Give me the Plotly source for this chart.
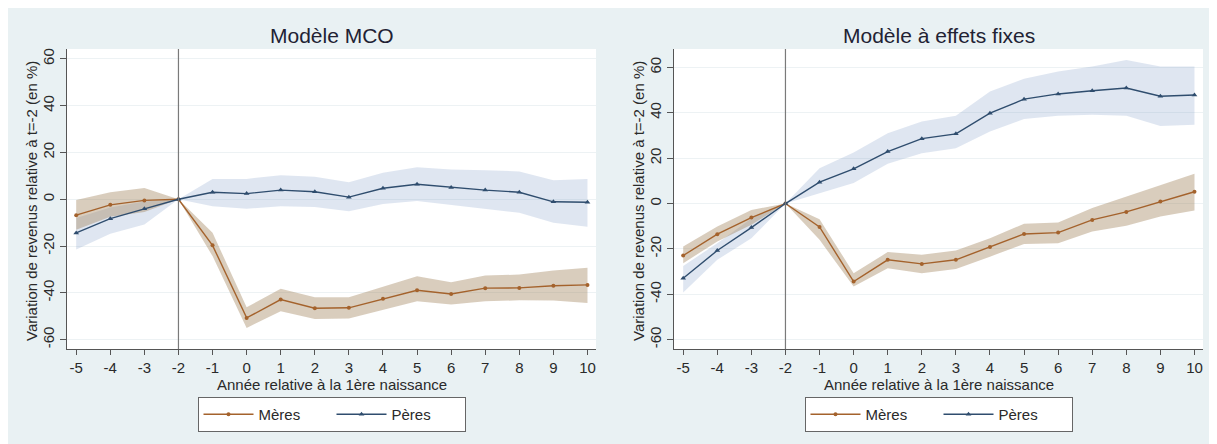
import plotly.graph_objects as go

# ---- data ----
years = [-5, -4, -3, -2, -1, 0, 1, 2, 3, 4, 5, 6, 7, 8, 9, 10]
x_ticks = years
y_ticks = [-60, -40, -20, 0, 20, 40, 60]

# Modèle MCO
mco_meres = [-6.8, -2.4, -0.5, 0, -19.7, -50.7, -42.9, -46.6, -46.4, -42.5, -38.9, -40.5, -38.0, -37.9, -37.0, -36.6]
mco_meres_hi = [-0.3, 3.0, 4.8, 0, -14.3, -46.2, -38.3, -41.9, -41.9, -37.5, -32.9, -35.5, -32.6, -32.2, -30.5, -29.3]
mco_meres_lo = [-13.0, -7.5, -5.5, 0, -24.3, -55.0, -47.9, -51.2, -51.0, -47.2, -43.6, -45.0, -43.6, -43.2, -43.3, -44.3]
mco_peres = [-14.4, -8.3, -4.1, 0, 3.0, 2.4, 3.9, 3.2, 0.9, 4.7, 6.4, 5.0, 3.9, 3.0, -1.1, -1.3]
mco_peres_hi = [-8.0, -3.5, -1.0, 0, 8.7, 8.7, 10.3, 9.6, 7.3, 11.3, 13.7, 12.7, 12.4, 11.9, 8.1, 8.7]
mco_peres_lo = [-21.5, -14.8, -10.8, 0, -3.0, -4.1, -3.0, -3.3, -5.1, -2.0, -0.8, -2.3, -4.1, -5.8, -10.1, -11.8]

# Modèle à effets fixes
fe_meres = [-22.9, -13.5, -6.2, 0, -10.3, -34.4, -24.8, -26.6, -24.8, -19.2, -13.4, -12.8, -7.2, -3.7, 0.9, 5.2]
fe_meres_hi = [-18.9, -10.1, -2.8, 0, -6.9, -30.7, -21.4, -22.6, -20.7, -15.3, -8.9, -8.4, -2.0, 3.1, 8.2, 13.1]
fe_meres_lo = [-26.3, -16.7, -9.4, 0, -16.0, -36.6, -28.5, -30.7, -28.9, -23.4, -17.8, -17.5, -12.3, -9.8, -5.7, -3.1]
fe_peres = [-32.9, -20.7, -10.6, 0, 9.4, 15.3, 22.9, 28.6, 30.7, 39.8, 46.0, 48.3, 49.7, 50.9, 47.3, 47.8]
fe_peres_hi = [-27.5, -17.5, -6.6, 0, 15.6, 22.5, 31.0, 36.1, 38.7, 49.4, 55.0, 58.2, 60.4, 63.3, 60.4, 60.4]
fe_peres_lo = [-39.2, -24.8, -15.3, 0, 4.6, 9.0, 17.5, 22.2, 24.4, 31.7, 37.2, 38.7, 39.1, 38.7, 34.2, 34.7]

titles = ["Modèle MCO", "Modèle à effets fixes"]
x_title = "Année relative à la 1ère naissance"
y_title = "Variation de revenus relative à t=-2 (en %)"
names = ["Mères", "Pères"]

# ---- styles ----
OFF = 8                      # page body margin offset
W, H = 1217 - OFF, 444 - OFF
BG = "#e9f1f3"
C_M = "#a4622c"
C_P = "#2f4d6e"
F_M = "rgba(160,130,90,0.40)"
F_P = "rgba(110,140,190,0.22)"
FONT = "Liberation Sans, Arial, sans-serif"
TXT = "#2a2a2a"


def fx(px):
    return (px - OFF) / W


def fy(py):
    return 1 - (py - OFF) / H


panels = [
    dict(x0=67, x1=596, ax="x", ay="y", xr=[-5.27, 10.25], yr=[-64, 64.2], leg="legend",
         m=mco_meres, mh=mco_meres_hi, ml=mco_meres_lo, p=mco_peres, ph=mco_peres_hi, pl=mco_peres_lo),
    dict(x0=674, x1=1203, ax="x2", ay="y2", xr=[-5.27, 10.25], yr=[-64.1, 68.1], leg="legend2",
         m=fe_meres, mh=fe_meres_hi, ml=fe_meres_lo, p=fe_peres, ph=fe_peres_hi, pl=fe_peres_lo),
]
py0, py1 = 49, 349

fig = go.Figure()
shapes, annotations = [], []

for i, pn in enumerate(panels):
    xa, ya = pn["ax"], pn["ay"]
    poly_x = years + years[::-1]
    fig.add_trace(go.Scatter(x=poly_x, y=pn["ph"] + pn["pl"][::-1], fill="toself", fillcolor=F_P,
                             line=dict(width=0), mode="lines", hoverinfo="skip", showlegend=False,
                             xaxis=xa, yaxis=ya))
    fig.add_trace(go.Scatter(x=poly_x, y=pn["mh"] + pn["ml"][::-1], fill="toself", fillcolor=F_M,
                             line=dict(width=0), mode="lines", hoverinfo="skip", showlegend=False,
                             xaxis=xa, yaxis=ya))
    fig.add_trace(go.Scatter(x=years, y=pn["m"], name=names[0], mode="lines+markers",
                             line=dict(color=C_M, width=1.4),
                             marker=dict(symbol="circle", size=4, color=C_M),
                             legend=pn["leg"], xaxis=xa, yaxis=ya))
    fig.add_trace(go.Scatter(x=years, y=pn["p"], name=names[1], mode="lines+markers",
                             line=dict(color=C_P, width=1.4),
                             marker=dict(symbol="triangle-up", size=5, color=C_P),
                             legend=pn["leg"], xaxis=xa, yaxis=ya))

    dom_x = [fx(pn["x0"]), fx(pn["x1"])]
    dom_y = [fy(py1), fy(py0)]
    xkey = "xaxis" if i == 0 else "xaxis2"
    ykey = "yaxis" if i == 0 else "yaxis2"
    fig.update_layout(**{
        xkey: dict(domain=dom_x, range=pn["xr"], tickmode="array", tickvals=x_ticks,
                   ticktext=[str(v) for v in x_ticks], showgrid=False, zeroline=False,
                   showline=True, linecolor="#555555", linewidth=1.2, ticks="outside",
                   ticklen=5, tickcolor="#555555", tickfont=dict(size=15, color=TXT, family=FONT),
                   anchor=ya),
        ykey: dict(domain=dom_y, range=pn["yr"], tickmode="array", tickvals=y_ticks,
                   ticktext=[str(v) for v in y_ticks], showgrid=True, gridcolor="#edf2f4",
                   gridwidth=1, zeroline=False, showline=True, linecolor="#555555", linewidth=1.2,
                   ticks="outside", ticklen=6, tickcolor="#555555", tickangle=-90,
                   tickfont=dict(size=15, color=TXT, family=FONT), anchor=xa),
    })
    shapes.append(dict(type="line", xref=xa, yref=f"{ya} domain", x0=-2, x1=-2, y0=0, y1=1,
                       line=dict(color="#7a7a7a", width=1.2), layer="above"))
    cx = fx((pn["x0"] + pn["x1"]) / 2)
    annotations.append(dict(text=titles[i], x=cx, y=fy(35), xref="paper", yref="paper",
                            showarrow=False, font=dict(size=21, color="#222233", family=FONT),
                            xanchor="center", yanchor="middle"))
    annotations.append(dict(text=x_title, x=cx, y=fy(384), xref="paper", yref="paper",
                            showarrow=False, font=dict(size=15, color=TXT, family=FONT),
                            xanchor="center", yanchor="middle"))
    annotations.append(dict(text=y_title, x=fx(pn["x0"] - 35), y=fy(201), xref="paper",
                            yref="paper", textangle=-90, showarrow=False,
                            font=dict(size=15, color=TXT, family=FONT),
                            xanchor="center", yanchor="middle"))

leg_common = dict(orientation="h", xanchor="center", yanchor="top", y=fy(397),
                  bgcolor="white", bordercolor="#666666", borderwidth=1,
                  font=dict(size=15, color=TXT, family=FONT), entrywidth=68,
                  entrywidthmode="pixels", itemwidth=50, traceorder="normal")

fig.update_layout(
    width=W, height=H,
    margin=dict(l=0, r=0, t=0, b=0),
    paper_bgcolor=BG, plot_bgcolor="white",
    shapes=shapes, annotations=annotations,
    legend=dict(x=fx((67 + 596) / 2), **leg_common),
    legend2=dict(x=fx((674 + 1203) / 2), **leg_common),
    hovermode=False,
)

fig.write_html("out.html")
